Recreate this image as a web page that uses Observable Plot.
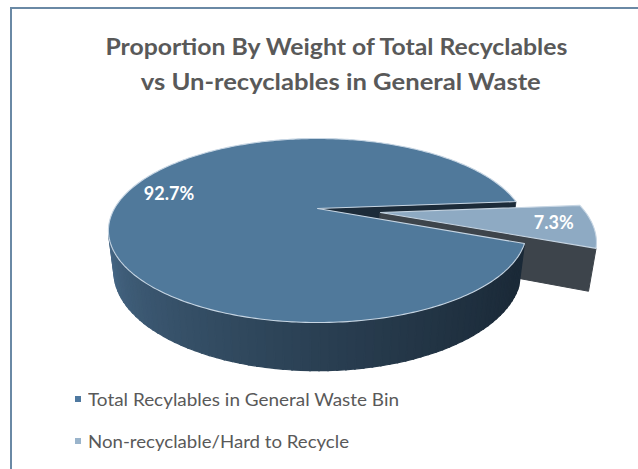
<!DOCTYPE html>
<html><head><meta charset="utf-8">
<script src="https://cdn.jsdelivr.net/npm/d3@7"></script>
<script src="https://cdn.jsdelivr.net/npm/@observablehq/plot@0.6"></script>
<style>
body{margin:0;background:#fff;}
#wrap{position:relative;width:638px;height:469px;overflow:hidden;font-family:Lato,"Open Sans",sans-serif;}
#frame{position:absolute;left:10px;top:7px;width:720px;height:520px;border-left:2px solid #6a89a5;border-top:2px solid #6a89a5;box-sizing:border-box;}
#chart{position:absolute;left:0;top:0;}
.tl{position:absolute;white-space:nowrap;text-align:center;}
.tl span{display:inline-block;font-weight:bold;color:#595959;font-size:23px;transform-origin:50% 50%;}
.lg{position:absolute;left:75px;white-space:nowrap;color:#595959;font-size:17px;}
.lg i{display:inline-block;width:6px;height:6px;margin-right:7px;vertical-align:middle;position:relative;top:-1px;}
.lg span{display:inline-block;transform-origin:0 50%;vertical-align:middle;}
</style></head>
<body><div id="wrap"><div id="frame"></div><div id="chart"></div>
<div class="tl" id="r1" style="top:32px"><span id="t1"></span></div>
<div class="tl" id="r2" style="top:67px"><span id="t2"></span></div>
<div id="legend"></div>
</div>
<script>
const titleLines = ["Proportion By Weight of Total Recyclables", "vs Un-recyclables in General Waste"];
const categories = ["Total Recylables in General Waste Bin", "Non-recyclable/Hard to Recycle"];
const values = [92.7, 7.3];
const labels = ["92.7%", "7.3%"];
const explode = [0, 0.31];
const topColors = ["#50799b", "#8eaac3"];
const legendColors = ["#4f79a0", "#9ab4cb"];

// view (Excel-like 3D perspective)
const deg = Math.PI / 180;
const phi = 25.3 * deg, s = Math.sin(phi), c = Math.cos(phi), D = 3.78, H = 0.222;
const cam = [0, D * s, D * c];
function proj(X, Y, Z) {
  const depth = D - Y * s - Z * c;
  return {px: X * D / depth, py: -(Y * c - Z * s) * D / depth};
}
const arcs = d3.pie().sort(null).startAngle(21.6 * deg).endAngle(381.6 * deg)(values);

const layers = {back: [], sliceSide: [], sliceTop: [], wall: [], top: []};
const labelPts = [];
const wallColor = d3.interpolateRgb("#1b2a38", "#4d7191");
let fid = 0;
function poly(layer, pts, fill, stroke) {
  const id = fid++;
  for (const p of pts) layers[layer].push({id, ...proj(...p), fill, stroke});
}
arcs.forEach((a, i) => {
  const a0 = a.startAngle, a1 = a.endAngle, m = (a0 + a1) / 2, e = explode[i];
  const ox = e * Math.cos(m), oz = e * Math.sin(m);
  const rim = (t, y) => [ox + Math.cos(t), y, oz + Math.sin(t)];
  const ctr = y => [ox, y, oz];
  const vis = (p, n) => (cam[0] - p[0]) * n[0] + (cam[1] - p[1]) * n[1] + (cam[2] - p[2]) * n[2] > 0;
  const isEx = e > 0;
  // radial faces
  const radials = [[a0, [Math.sin(a0), 0, -Math.cos(a0)]], [a1, [-Math.sin(a1), 0, Math.cos(a1)]]];
  for (const [t, n] of radials) {
    if (vis(ctr(-H / 2), n)) {
      const f = isEx ? "#3d444b" : "#1c2b39";
      poly(isEx ? "sliceSide" : "back", [ctr(0), rim(t, 0), rim(t, -H), ctr(-H)], f, f);
    }
  }
  // outer wall
  const N = Math.max(4, Math.ceil((a1 - a0) / (2 * deg)));
  for (let k = 0; k < N; k++) {
    const t0 = a0 + (a1 - a0) * k / N, t1 = a0 + (a1 - a0) * (k + 1) / N, tm = (t0 + t1) / 2;
    if (!vis(rim(tm, -H / 2), [Math.cos(tm), 0, Math.sin(tm)])) continue;
    let f;
    if (isEx) f = "#40474e";
    else {
      const u = Math.max(0, Math.min(1, (tm - 30 * deg) / (150 * deg)));
      f = wallColor(Math.pow(u, 1.3));
    }
    poly(isEx ? "sliceSide" : "wall", [rim(t0, 0), rim(t1 + 0.004, 0), rim(t1 + 0.004, -H), rim(t0, -H)], f, f);
  }
  // top face
  const topPts = [ctr(0)];
  const M = Math.max(8, Math.ceil((a1 - a0) / (1 * deg)));
  for (let k = 0; k <= M; k++) topPts.push(rim(a0 + (a1 - a0) * k / M, 0));
  poly(isEx ? "sliceTop" : "top", topPts, topColors[i], "#c6d5e3");
  // label point
  const r = isEx ? 0.82 : 0.77;
  labelPts.push({...proj(ox + r * Math.cos(m), 0, oz + r * Math.sin(m) - (isEx ? 0 : 0.06)), label: labels[i]});
});

const lineOpts = (sw) => ({x: "px", y: "py", z: "id", fill: "fill", stroke: "stroke", strokeWidth: sw, curve: "linear-closed", strokeLinejoin: "round"});
const chart = Plot.plot({
  width: 638, height: 469, margin: 0,
  style: {background: "transparent", overflow: "visible"},
  x: {domain: [-1, 1], range: [114, 520], axis: null},
  y: {domain: [-1, 1], range: [5, 411], axis: null},
  color: {type: "identity"},
  marks: [
    Plot.line(layers.back, lineOpts(0.8)),
    Plot.line(layers.sliceSide, lineOpts(1)),
    Plot.line(layers.sliceTop, lineOpts(1.1)),
    Plot.line(layers.wall, lineOpts(1.2)),
    Plot.line(layers.top, lineOpts(1.1)),
    Plot.text(labelPts, {x: "px", y: "py", text: "label", fill: "white", fontSize: 18, fontWeight: "bold", fontFamily: "Lato, 'Open Sans', sans-serif"})
  ]
});
document.getElementById("chart").appendChild(chart);

function fitWidth(el, w) {
  const cur = el.getBoundingClientRect().width;
  el.style.transform = `scaleX(${w / cur})`;
}
const rows = [["r1", "t1", 336, 462], ["r2", "t2", 341, 400]];
rows.forEach(([rid, tid, cx, w], i) => {
  const r = document.getElementById(rid), t = document.getElementById(tid);
  r.style.left = (cx - 300) + "px"; r.style.width = "600px";
  t.textContent = titleLines[i];
  fitWidth(t, w);
});

const lg = document.getElementById("legend");
const legendTops = [387, 429];
const legendWidths = [311, 261];
categories.forEach((cat, i) => {
  const row = document.createElement("div");
  row.className = "lg";
  row.style.top = legendTops[i] + "px";
  const sw = document.createElement("i");
  sw.style.background = legendColors[i];
  const sp = document.createElement("span");
  sp.textContent = cat;
  row.appendChild(sw); row.appendChild(sp);
  lg.appendChild(row);
  fitWidth(sp, legendWidths[i]);
});
</script></body></html>
